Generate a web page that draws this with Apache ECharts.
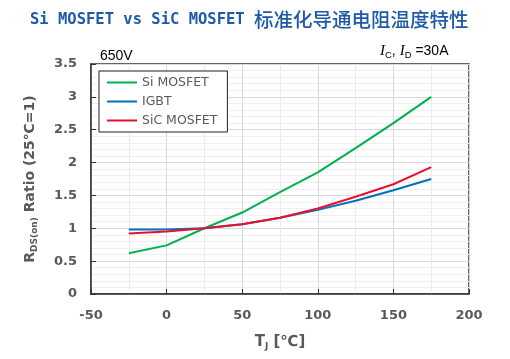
<!DOCTYPE html>
<html>
<head>
<meta charset="utf-8">
<script src="https://cdn.jsdelivr.net/npm/echarts@6/dist/echarts.min.js"></script>
<style>
html,body{margin:0;padding:0;background:#fff;}
#chart{width:510px;height:359px;}
</style>
</head>
<body>
<div id="chart"></div>
<script>
const temps = [-25, 0, 25, 50, 75, 100, 125, 150, 175];
const siMosfet = [0.62, 0.74, 1.0, 1.24, 1.55, 1.85, 2.22, 2.6, 3.0];
const igbt = [0.98, 0.98, 1.0, 1.06, 1.16, 1.28, 1.42, 1.58, 1.75];
const sicMosfet = [0.92, 0.95, 1.0, 1.06, 1.16, 1.30, 1.48, 1.67, 1.93];
const seriesNames = ['Si MOSFET', 'IGBT', 'SiC MOSFET'];
const seriesColors = ['#00b050', '#0070c0', '#e8112d'];
const yTicks = [0, 0.5, 1, 1.5, 2, 2.5, 3, 3.5];
const xTicks = [-50, 0, 50, 100, 150, 200];

const chart = echarts.init(document.getElementById('chart'), null, {renderer: 'canvas'});
const pair = arr => temps.map((t, i) => [t, arr[i]]);
const allData = [siMosfet, igbt, sicMosfet];
const gray = '#595959';

chart.setOption({
  animation: false,
  backgroundColor: '#fff',
  title: [{
    text: '{a|Si MOSFET vs SiC MOSFET }{b|标准化导通电阻温度特性}',
    left: 25, top: 5,
    textStyle: {
      fontWeight: 'normal',
      rich: {
        a: {fontFamily: 'DejaVu Sans Mono', fontSize: 15.5, fontWeight: 'bold', color: '#1e5aa8'},
        b: {fontFamily: 'Noto Sans CJK SC', fontSize: 19.5, fontWeight: 500, color: '#1e5aa8'}
      }
    }
  }],
  graphic: [
    {type: 'text', left: 100, top: 49, style: {text: '650V', font: '14px "Liberation Sans", Arial', fill: '#000'}},
    {type: 'text', left: 380, top: 44, style: {
      text: '{i|I}{s|C}{n|, }{i|I}{s|D}{n| =30A}',
      rich: {
        i: {fontFamily: 'Liberation Serif', fontStyle: 'italic', fontSize: 15, color: '#000'},
        s: {fontFamily: 'Liberation Sans', fontSize: 9.5, color: '#000', padding: [7, 0, 0, 0]},
        n: {fontFamily: 'Liberation Sans', fontSize: 14, color: '#000'}
      }
    }}
  ],
  legend: {
    orient: 'vertical',
    left: 99, top: 71,
    width: 128,
    padding: [5, 10, 5, 8],
    itemGap: 6,
    itemWidth: 30, itemHeight: 2,
    icon: 'rect',
    backgroundColor: '#fff',
    borderColor: '#222',
    borderWidth: 1,
    textStyle: {fontFamily: 'Verdana, DejaVu Sans', fontSize: 12.5, color: gray, padding: [0, 20, 0, 0]},
    data: seriesNames
  },
  grid: {
    left: 91, top: 64, right: 41, bottom: 65,
    show: true, borderColor: '#333', borderWidth: 1.5, backgroundColor: 'transparent'
  },
  xAxis: {
    type: 'value', min: -50, max: 200, interval: 50,
    name: '{t|T}{s|J}{t| [℃]}',
    nameLocation: 'middle', nameGap: 40,
    nameTextStyle: {
      rich: {
        t: {fontFamily: 'DejaVu Sans', fontSize: 15, fontWeight: 'bold', color: gray},
        s: {fontFamily: 'DejaVu Sans', fontSize: 9, fontWeight: 'bold', color: gray, padding: [8, 0, 0, 0]}
      }
    },
    axisLine: {show: true, onZero: false, lineStyle: {color: '#333', width: 1.5}},
    axisTick: {show: true, inside: true, length: 5, lineStyle: {color: '#333'}},
    axisLabel: {fontFamily: 'DejaVu Sans', fontWeight: 'bold', fontSize: 13, color: gray, margin: 15,
      formatter: v => xTicks.includes(v) ? String(v) : ''},
    splitLine: {show: true, lineStyle: {color: '#d9d9d9', width: 1}},
    minorTick: {show: false, splitNumber: 2},
    minorSplitLine: {show: true, lineStyle: {color: '#ebebeb', width: 1}}
  },
  yAxis: {
    type: 'value', min: 0, max: 3.5, interval: 0.5,
    name: '{t|R}{s|DS(on)}{t| Ratio (25℃=1)}',
    nameLocation: 'middle', nameGap: 52,
    nameTextStyle: {
      rich: {
        t: {fontFamily: 'DejaVu Sans', fontSize: 14, fontWeight: 'bold', color: gray},
        s: {fontFamily: 'DejaVu Sans', fontSize: 9, fontWeight: 'bold', color: gray, padding: [8, 0, 0, 0]}
      }
    },
    axisLine: {show: true, onZero: false, lineStyle: {color: '#333', width: 1.5}},
    axisTick: {show: true, inside: true, length: 5, lineStyle: {color: '#333'}},
    axisLabel: {fontFamily: 'DejaVu Sans', fontWeight: 'bold', fontSize: 13, color: gray, margin: 14,
      formatter: v => yTicks.includes(v) ? String(v) : ''},
    splitLine: {show: true, lineStyle: {color: '#d9d9d9', width: 1}},
    minorTick: {show: false, splitNumber: 5},
    minorSplitLine: {show: true, lineStyle: {color: '#efefef', width: 1}}
  },
  series: seriesNames.map((n, k) => ({
    name: n, type: 'line', data: pair(allData[k]),
    showSymbol: false, symbol: 'none',
    lineStyle: {color: seriesColors[k], width: 2},
    itemStyle: {color: seriesColors[k]},
    z: k === 2 ? 4 : 3
  }))
});
</script>
</body>
</html>
